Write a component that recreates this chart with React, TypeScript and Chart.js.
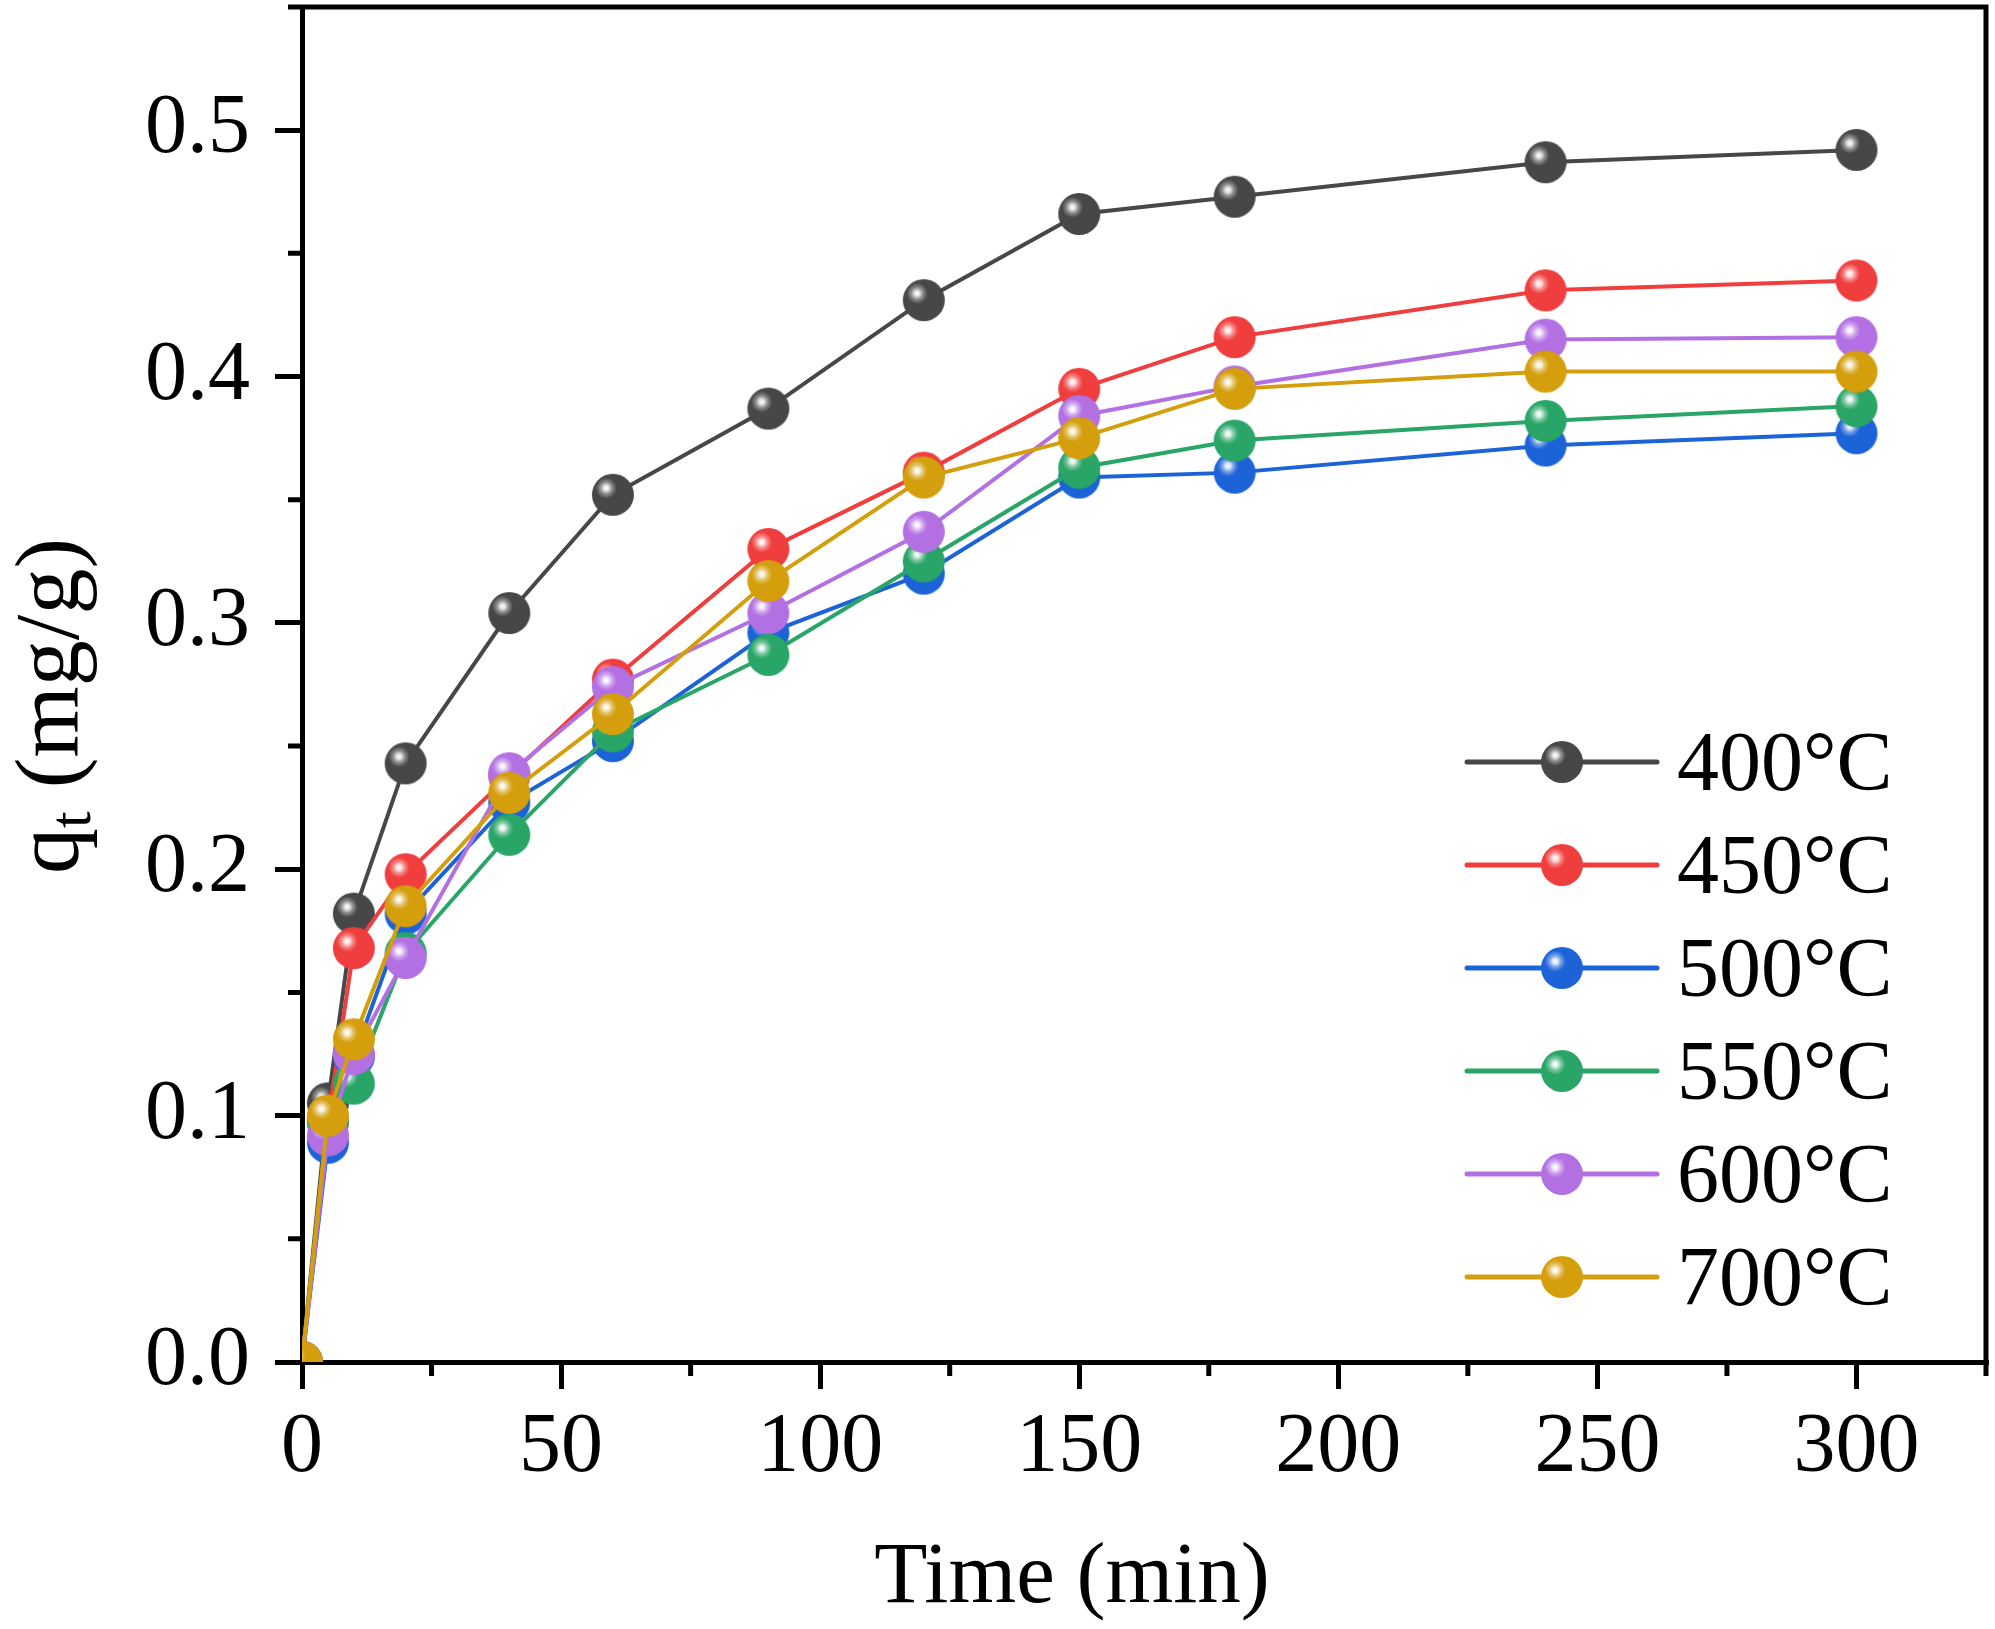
import { useEffect, useRef } from "react"
import { Chart, registerables } from "chart.js"

Chart.register(...registerables)

// contact time (min)
const times = [0, 5, 10, 20, 40, 60, 90, 120, 150, 180, 240, 300]

// q_t (mg/g) for each pyrolysis temperature
const q400 = [0, 0.105, 0.182, 0.243, 0.304, 0.352, 0.387, 0.431, 0.466, 0.473, 0.487, 0.492]
const q450 = [0, 0.098, 0.168, 0.198, 0.238, 0.277, 0.33, 0.361, 0.395, 0.416, 0.435, 0.439]
const q500 = [0, 0.089, 0.124, 0.182, 0.227, 0.252, 0.296, 0.32, 0.359, 0.361, 0.372, 0.377]
const q550 = [0, 0.097, 0.113, 0.166, 0.214, 0.256, 0.287, 0.325, 0.363, 0.374, 0.382, 0.388]
const q600 = [0, 0.092, 0.125, 0.164, 0.239, 0.274, 0.304, 0.337, 0.384, 0.396, 0.415, 0.416]
const q700 = [0, 0.1, 0.131, 0.185, 0.231, 0.263, 0.317, 0.359, 0.375, 0.395, 0.402, 0.402]

const seriesLabels = ["400°C", "450°C", "500°C", "550°C", "600°C", "700°C"]
const seriesValues = [q400, q450, q500, q550, q600, q700]
const seriesColors = ["#474747", "#f03d3d", "#1d63d8", "#28a567", "#b370e3", "#d49e0c"]

const xTicks = [0, 50, 100, 150, 200, 250, 300]
const xMinorTicks = [25, 75, 125, 175, 225, 275, 325]
const yTicks = [0, 0.1, 0.2, 0.3, 0.4, 0.5]
const yMinorTicks = [0.05, 0.15, 0.25, 0.35, 0.45, 0.55]

const FONT = '"Liberation Serif", "Times New Roman", serif'
const BALL_R = 21

// shiny ball marker like the Origin "sphere" symbol
function makeBall(color: string) {
  const size = BALL_R * 2 + 2
  const c = document.createElement("canvas")
  c.width = size
  c.height = size
  const ctx = c.getContext("2d")!
  const m = size / 2
  ctx.beginPath()
  ctx.arc(m, m, BALL_R, 0, Math.PI * 2)
  ctx.fillStyle = color
  ctx.fill()
  const hx = m - BALL_R * 0.32
  const hy = m - BALL_R * 0.32
  const g = ctx.createRadialGradient(hx, hy, 0, hx, hy, BALL_R * 0.5)
  g.addColorStop(0, "rgba(255,255,255,1)")
  g.addColorStop(0.25, "rgba(255,255,255,0.85)")
  g.addColorStop(0.55, "rgba(255,255,255,0.4)")
  g.addColorStop(1, "rgba(255,255,255,0)")
  ctx.fillStyle = g
  ctx.beginPath()
  ctx.arc(m, m, BALL_R, 0, Math.PI * 2)
  ctx.fill()
  return c
}

function makeFramePlugin(balls: HTMLCanvasElement[]) {
  return {
    id: "frame",
    afterDraw(chart: any) {
      const ctx = chart.ctx as CanvasRenderingContext2D
      const { left, right, top, bottom } = chart.chartArea
      const xs = chart.scales.x
      const ys = chart.scales.y

      ctx.save()
      ctx.strokeStyle = "#000"
      ctx.lineWidth = 5

      // top and right border
      ctx.beginPath()
      ctx.moveTo(left, top)
      ctx.lineTo(right, top)
      ctx.lineTo(right, bottom)
      ctx.stroke()

      // minor ticks
      ctx.beginPath()
      xMinorTicks.forEach((v) => {
        const px = xs.getPixelForValue(v)
        ctx.moveTo(px, bottom)
        ctx.lineTo(px, bottom + 14)
      })
      yMinorTicks.forEach((v) => {
        const py = ys.getPixelForValue(v)
        ctx.moveTo(left, py)
        ctx.lineTo(left - 14, py)
      })
      ctx.stroke()

      ctx.fillStyle = "#000"

      // x title
      ctx.font = `87px ${FONT}`
      ctx.textAlign = "center"
      ctx.textBaseline = "alphabetic"
      ctx.fillText("Time (min)", 1072, 1602)

      // y title with subscript
      ctx.save()
      ctx.translate(78, 706)
      ctx.rotate(-Math.PI / 2)
      ctx.textAlign = "left"
      const fMain = `92px ${FONT}`
      const fSub = `60px ${FONT}`
      ctx.font = fMain
      const wq = ctx.measureText("q").width
      const wRest = ctx.measureText(" (mg/g)").width
      ctx.font = fSub
      const wt = ctx.measureText("t").width
      let tx = -(wq + wt + wRest) / 2
      ctx.font = fMain
      ctx.fillText("q", tx, 0)
      tx += wq
      ctx.font = fSub
      ctx.fillText("t", tx, 12)
      tx += wt
      ctx.font = fMain
      ctx.fillText(" (mg/g)", tx, 0)
      ctx.restore()

      // legend
      ctx.font = `84px ${FONT}`
      ctx.textAlign = "left"
      seriesLabels.forEach((label, i) => {
        const y = 762 + i * 103
        ctx.strokeStyle = seriesColors[i]
        ctx.lineCap = "round"
        ctx.beginPath()
        ctx.moveTo(1467, y)
        ctx.lineTo(1657, y)
        ctx.stroke()
        const b = balls[i]
        ctx.drawImage(b, 1562 - b.width / 2, y - b.height / 2)
        ctx.fillStyle = "#000"
        ctx.fillText(label, 1677, y + 28)
      })
      ctx.restore()
    },
  }
}

export default function App() {
  const chartRef = useRef<HTMLCanvasElement>(null)
  const chartInstance = useRef<Chart | null>(null)

  useEffect(() => {
    document.body.style.margin = "0"
    if (!chartRef.current) return
    if (chartInstance.current) chartInstance.current.destroy()

    const balls = seriesColors.map((c) => makeBall(c))

    const datasets = seriesLabels.map((label, i) => ({
      label,
      data: times.map((t, j) => ({ x: t, y: seriesValues[i][j] })),
      borderColor: seriesColors[i],
      backgroundColor: seriesColors[i],
      borderWidth: 4,
      tension: 0,
      pointStyle: balls[i],
      pointRadius: BALL_R,
      pointHoverRadius: BALL_R,
      pointBorderWidth: 0,
      clip: 0,
      // later temperatures sit on top
      order: seriesLabels.length - 1 - i,
    }))

    const axisGrid = {
      display: true,
      drawOnChartArea: false,
      drawTicks: true,
      tickLength: 27,
      tickWidth: 5,
      tickColor: "#000",
      color: "#000",
      lineWidth: 5,
    }

    chartInstance.current = new Chart(chartRef.current, {
      type: "line",
      data: { datasets: datasets as any },
      options: {
        animation: false,
        responsive: false,
        devicePixelRatio: 1,
        events: [],
        layout: { autoPadding: false, padding: { top: 7, right: 9, bottom: 0, left: 0 } },
        plugins: {
          legend: { display: false },
          tooltip: { enabled: false },
        },
        scales: {
          x: {
            type: "linear",
            min: 0,
            max: 325,
            afterBuildTicks: (s: any) => {
              s.ticks = xTicks.map((v) => ({ value: v }))
            },
            afterFit: (s: any) => {
              s.height = 267
              s.paddingLeft = 0
              s.paddingRight = 0
            },
            ticks: {
              color: "#000",
              font: { family: FONT, size: 84 },
              padding: 10,
              maxRotation: 0,
              autoSkip: false,
              callback: (v: any) => String(v),
            },
            border: { display: true, color: "#000", width: 5 },
            grid: axisGrid,
          },
          y: {
            type: "linear",
            min: 0,
            max: 0.55,
            afterBuildTicks: (s: any) => {
              s.ticks = yTicks.map((v) => ({ value: v }))
            },
            afterFit: (s: any) => {
              s.width = 302
              s.paddingTop = 0
              s.paddingBottom = 0
            },
            ticks: {
              color: "#000",
              font: { family: FONT, size: 84 },
              padding: 25,
              autoSkip: false,
              callback: (v: any) => Number(v).toFixed(1),
            },
            border: { display: true, color: "#000", width: 5 },
            grid: axisGrid,
          },
        },
      },
      plugins: [makeFramePlugin(balls)],
    })

    return () => {
      if (chartInstance.current) {
        chartInstance.current.destroy()
        chartInstance.current = null
      }
    }
  }, [])

  return (
    <div style={{ width: 1995, height: 1629 }}>
      <canvas ref={chartRef} width={1995} height={1629} style={{ display: "block" }} />
    </div>
  )
}
